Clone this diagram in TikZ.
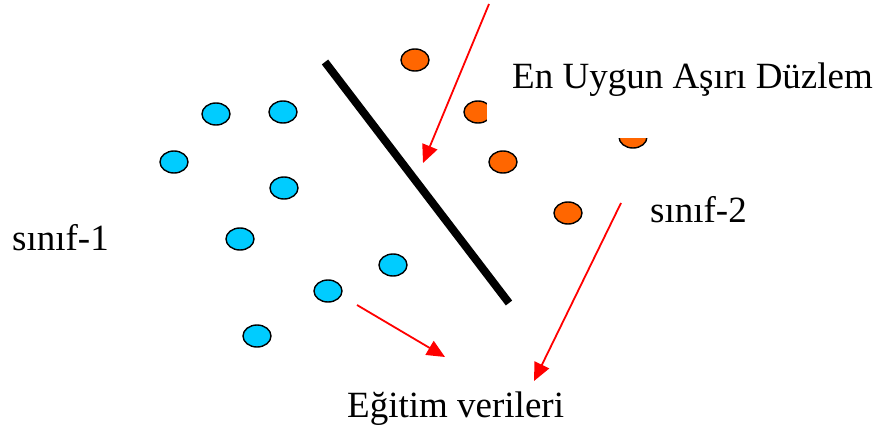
\documentclass[tikz,border=0pt]{standalone}
\usepackage{fontspec}
\setmainfont{Liberation Serif}
\usetikzlibrary{arrows.meta,shapes.geometric}

\begin{document}
\begin{tikzpicture}[x=1pt,y=-1pt,
  dot/.style={ellipse,draw=black,line width=1.4pt,minimum width=28pt,minimum height=22pt,inner sep=0pt},
  bluedot/.style={dot,fill={rgb,255:red,0;green,204;blue,255}},
  orangedot/.style={dot,fill={rgb,255:red,255;green,102;blue,0}},
  label/.style={font=\fontsize{37}{41}\selectfont,inner sep=0pt},
  pointer/.style={draw={rgb,255:red,255;green,0;blue,0},line width=1.8pt,
    -{Triangle[length=18pt,width=16pt]}}]
  \useasboundingbox (0,0) rectangle (881,434);
  % training points
  \foreach \i/\x/\y in {1/216/114,2/283/112,3/174/162,4/284/188,5/240/239,6/393/265,7/328/291,8/257/336}
    \node[bluedot] (b\i) at (\x,\y) {};
  \foreach \i/\x/\y in {1/415/60,2/478/112,3/503/162,4/633/137,5/568/213}
    \node[orangedot] (o\i) at (\x,\y) {};
  % separating hyperplane
  \coordinate (h1) at (325,62);
  \coordinate (h2) at (509,303);
  \draw[line width=8pt] (h1) -- (h2);
  % labels
  \node[label,fill=white,anchor=base west,inner xsep=25pt,inner ysep=42pt] (duzlem) at (487,88) {En Uygun Aşırı Düzlem};
  \node[label,anchor=base west] (sinif2) at (650,222) {sınıf-2};
  \node[label,anchor=base west] (sinif1) at (12,250) {sınıf-1};
  \node[label,anchor=base west] (egitim) at (347,417) {Eğitim verileri};
  % pointers
  \coordinate (p1) at (489,4);
  \coordinate (t1) at (423,163);
  \coordinate (p2) at (357,305);
  \coordinate (t2) at (445,357);
  \coordinate (p3) at (621,203);
  \coordinate (t3) at (534,381);
  \draw[pointer] (p1) -- (t1);
  \draw[pointer] (p2) -- (t2);
  \draw[pointer] (p3) -- (t3);
\end{tikzpicture}
\end{document}
